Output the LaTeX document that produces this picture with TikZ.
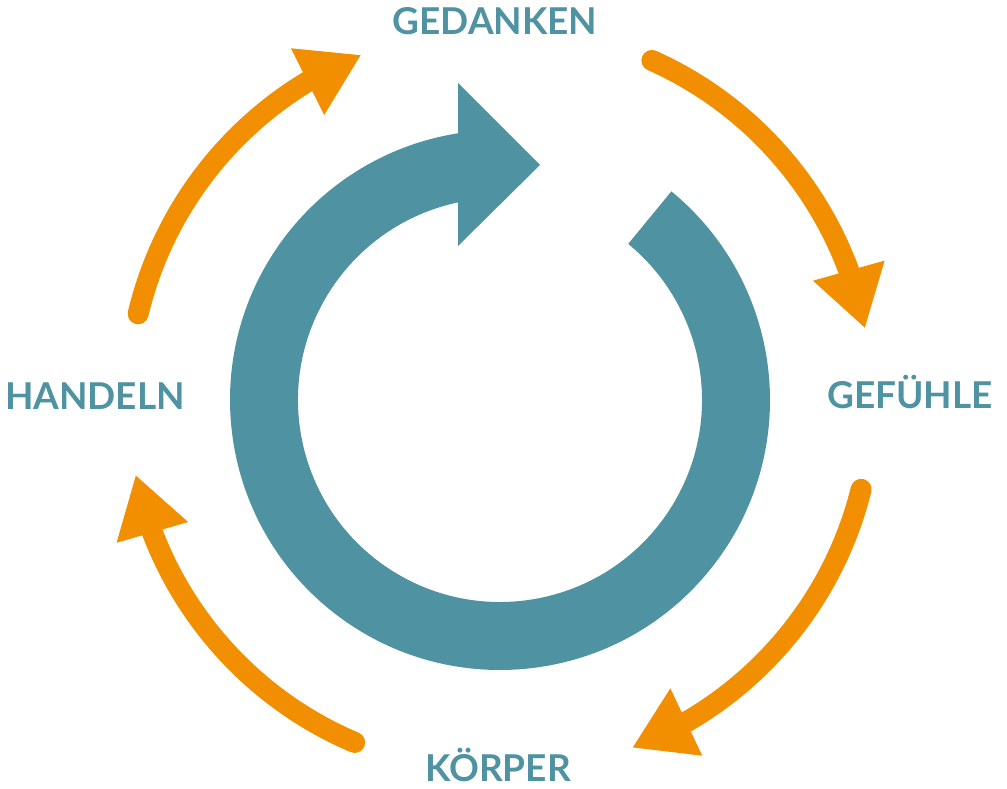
\documentclass[tikz,border=0pt]{standalone}
\usepackage{fontspec}
\setmainfont{Lato}
\usetikzlibrary{arrows.meta,bending}
\definecolor{ringteal}{HTML}{4F93A2}
\definecolor{cycorange}{HTML}{F28F00}
\begin{document}
\begin{tikzpicture}[x=1pt,y=1pt,
  cyclabel/.style={font=\fontsize{37}{40}\selectfont\bfseries, text=ringteal, anchor=base, inner sep=0pt},
  cycarrow/.style={draw=cycorange, line width=21pt, line cap=round,
    -{Triangle[width=70pt,length=60pt,flex]}}]
\useasboundingbox (0,0) rectangle (1007,788);
\coordinate (C) at (500,388);
% central ring arrow
\fill[ringteal] (C) ++(50.6:270) arc[start angle=50.6, end angle=-261.05, radius=270]
  -- (458,705) -- (540,623) -- (458,542) -- (458,585.6)
  arc[start angle=-258, end angle=50.6, radius=202] -- cycle;
% labels
\node[cyclabel] (ged) at (495,753) {GEDANKEN};
\node[cyclabel] (gef) at (910,379) {GEFÜHLE};
\node[cyclabel] (koe) at (498,7) {KÖRPER};
\node[cyclabel] (han) at (95,378) {HANDELN};
% orange arrows
\draw[cycarrow] (C) ++(65.9:372) arc[start angle=65.9, end angle=11.1, radius=372];
\draw[cycarrow] (C) ++(-13.9:372) arc[start angle=-13.9, end angle=-69.2, radius=372];
\draw[cycarrow] (C) ++(-113:372) arc[start angle=-113, end angle=-168.4, radius=372];
\draw[cycarrow] (C) ++(166.6:372) arc[start angle=166.6, end angle=111.9, radius=372];
\end{tikzpicture}
\end{document}
